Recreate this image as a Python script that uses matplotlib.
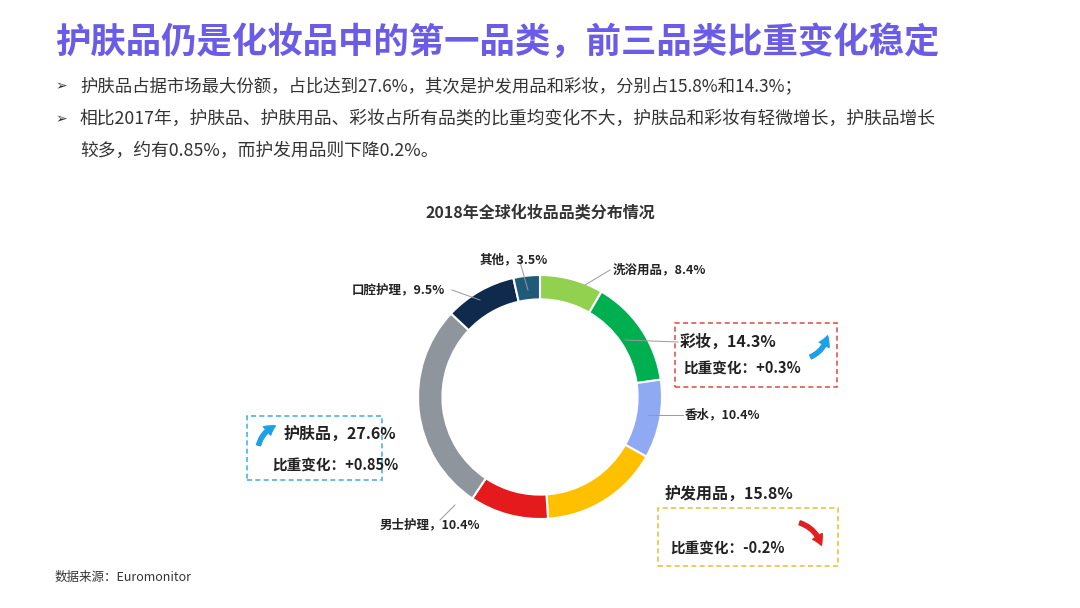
import matplotlib
matplotlib.use("Agg")
import matplotlib.pyplot as plt
from matplotlib.patches import Rectangle, FancyArrowPatch

plt.rcParams["font.family"] = ["Noto Sans CJK SC", "DejaVu Sans"]

categories = ["洗浴用品", "彩妆", "香水", "护发用品", "男士护理", "护肤品", "口腔护理", "其他"]
shares = [8.4, 14.3, 10.4, 15.8, 10.4, 27.6, 9.5, 3.5]
colors = ["#92d050", "#00b050", "#8faaf2", "#ffc000", "#e41a1c", "#8e959c", "#0f2a4c", "#1f5b78"]

W, H = 1080, 608
fig = plt.figure(figsize=(W / 100, H / 100), dpi=100)
fig.patch.set_facecolor("white")

def fx(x): return x / W
def fy(y): return 1 - y / H

# Title and bullets
fig.text(fx(55), fy(42), "护肤品仍是化妆品中的第一品类，前三品类比重变化稳定", fontsize=25.5,
         fontweight="bold", color="#6b5ce7", va="center")
for y in (86, 119):
    fig.text(fx(55), fy(y), "➢", fontsize=10, color="#333333", va="center", family="DejaVu Sans")
fig.text(fx(80), fy(86), "护肤品占据市场最大份额，占比达到27.6%，其次是护发用品和彩妆，分别占15.8%和14.3%；",
         fontsize=12.5, color="#333333", va="center")
fig.text(fx(80), fy(119), "相比2017年，护肤品、护肤用品、彩妆占所有品类的比重均变化不大，护肤品和彩妆有轻微增长，护肤品增长",
         fontsize=12.8, color="#333333", va="center")
fig.text(fx(80), fy(151), "较多，约有0.85%，而护发用品则下降0.2%。", fontsize=12.8, color="#333333", va="center")

fig.text(fx(540), fy(213), "2018年全球化妆品品类分布情况", fontsize=11.5, fontweight="bold",
         color="#333333", ha="center", va="center")
fig.text(fx(55), fy(577), "数据来源：Euromonitor", fontsize=9, color="#333333", va="center")

# Donut
cx, cy, r = 540, 397, 122
ax = fig.add_axes([fx(cx - r), fy(cy + r), 2 * r / W, 2 * r / H])
ax.pie(shares, colors=colors, startangle=90, counterclock=False, radius=1,
       wedgeprops=dict(width=0.2, edgecolor="white", linewidth=1.5))
ax.set_xlim(-1, 1); ax.set_ylim(-1, 1); ax.set_aspect("equal"); ax.axis("off")

# Labels
labels = [
    ("洗浴用品，8.4%", 613, 270),
    ("彩妆，14.3%", 680, 342),
    ("香水，10.4%", 685, 415),
    ("男士护理，10.4%", 380, 525),
    ("口腔护理，9.5%", 352, 290),
    ("其他，3.5%", 480, 260),
]
for i, (t, x, y) in enumerate(labels):
    fs = 11.5 if i == 1 else 9
    fig.text(fx(x), fy(y), t, fontsize=fs, fontweight="bold", color="#222222", va="center")
fig.text(fx(683), fy(368), "比重变化：+0.3%", fontsize=10.5, fontweight="bold", color="#222222", va="center")
fig.text(fx(284), fy(434), "护肤品，27.6%", fontsize=11.5, fontweight="bold", color="#222222", va="center")
fig.text(fx(272), fy(465), "比重变化：+0.85%", fontsize=10.5, fontweight="bold", color="#222222", va="center")
fig.text(fx(665), fy(494), "护发用品，15.8%", fontsize=11.5, fontweight="bold", color="#222222", va="center")
fig.text(fx(670), fy(548), "比重变化：-0.2%", fontsize=10.5, fontweight="bold", color="#222222", va="center")

# Leader lines
lines = [((610, 270), (585, 285)), ((678, 342), (625, 340)), ((683, 415), (648, 415)),
         ((440, 520), (455, 505)), ((452, 290), (480, 300)), ((520, 262), (528, 290))]
for (x0, y0), (x1, y1) in lines:
    fig.add_artist(plt.Line2D([fx(x0), fx(x1)], [fy(y0), fy(y1)], color="#999999", lw=0.7))

# Dashed boxes
boxes = [(675, 323, 162, 64, "#e05555"), (247, 416, 135, 64, "#4ab4e0"), (658, 508, 180, 58, "#f0c040")]
for x, y, w, h, c in boxes:
    fig.add_artist(Rectangle((fx(x), fy(y + h)), w / W, h / H, fill=False, ls=(0, (3, 2)),
                             ec=c, lw=1.2, transform=fig.transFigure))

# Arrows
arrows = [((808, 358), (828, 333), "#1ea0e6", 0.3), ((258, 448), (278, 425), "#1ea0e6", -0.3),
          ((797, 522), (822, 548), "#e02020", -0.3)]
for (x0, y0), (x1, y1), c, rad in arrows:
    fig.add_artist(FancyArrowPatch((fx(x0), fy(y0)), (fx(x1), fy(y1)), transform=fig.transFigure,
                                   connectionstyle=f"arc3,rad={rad}", arrowstyle="simple,head_width=8,head_length=7,tail_width=3",
                                   color=c))

fig.savefig("out.png", dpi=100)
